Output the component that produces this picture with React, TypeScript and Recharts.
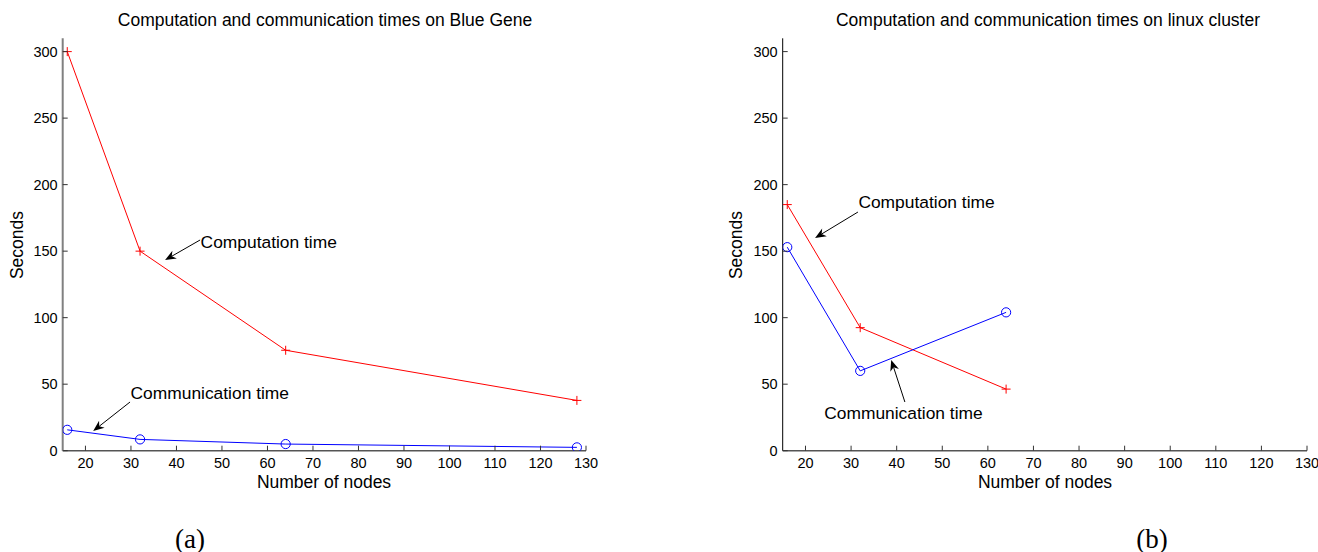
import { LineChart, Line, XAxis, YAxis, ReferenceLine, ReferenceDot } from "recharts";

// values
const nodesBlueGene = [16, 32, 64, 128];
const compBlueGene = [300, 150, 75.5, 37.8];
const commBlueGene = [15.7, 8.5, 5, 2.5];

const nodesCluster = [16, 32, 64];
const compCluster = [185, 92.5, 46.3];
const commCluster = [153, 60, 104];

const xTicks = [20, 30, 40, 50, 60, 70, 80, 90, 100, 110, 120, 130];
const yTicks = [0, 50, 100, 150, 200, 250, 300];
const xDomain = [15, 130];
const yDomain = [0, 310];

// annotation text spot, arrow tail and arrow tip, in data units
const blueGeneNotes = [
  { text: "Computation time", at: [45.3, 157], tail: [45.2, 158.4], tip: [37.5, 143.3] },
  { text: "Communication time", at: [29.9, 43.4], tail: [29.8, 36.6], tip: [21.7, 14.8] },
];
const clusterNotes = [
  { text: "Computation time", at: [31.6, 187], tail: [31.5, 179.4], tip: [22.1, 159.9] },
  { text: "Communication time", at: [24.1, 28.4], tail: [41.8, 36.6], tip: [38.8, 68.2] },
];

const SANS = '"Liberation Sans", Arial, Helvetica, sans-serif';
const SERIF = '"Liberation Serif", "Times New Roman", serif';

const blueGeneRows = nodesBlueGene.map((n, i) => ({ n, comp: compBlueGene[i], comm: commBlueGene[i] }));
const clusterRows = nodesCluster.map((n, i) => ({ n, comp: compCluster[i], comm: commCluster[i] }));

function XTick(props: any) {
  const { x, y, payload } = props;
  return (
    <g>
      <line x1={x} x2={x} y1={y} y2={y - 5} stroke="#333" />
      <text x={x} y={y + 17.5} textAnchor="middle" fontSize={14.5} fontFamily={SANS} fill="#000">
        {payload.value}
      </text>
    </g>
  );
}

function YTick(props: any) {
  const { x, y, payload } = props;
  return (
    <g>
      <line x1={x} x2={x + 5} y1={y} y2={y} stroke="#333" />
      <text x={x - 5} y={y + 5.2} textAnchor="end" fontSize={14.5} fontFamily={SANS} fill="#000">
        {payload.value}
      </text>
    </g>
  );
}

function PlusDot(props: any) {
  const { cx, cy, index } = props;
  return <path key={`p${index}`} d={`M${cx - 4.5},${cy}H${cx + 4.5}M${cx},${cy - 4.5}V${cy + 4.5}`} stroke="#ff0000" strokeWidth={1} />;
}

function CircleDot(props: any) {
  const { cx, cy, index } = props;
  return <circle key={`c${index}`} cx={cx} cy={cy} r={4.6} fill="none" stroke="#0000ff" strokeWidth={1} />;
}

function Arrow(props: any) {
  const { x1, y1, x2, y2 } = props;
  const dx = x2 - x1;
  const dy = y2 - y1;
  const len = Math.hypot(dx, dy) || 1;
  const ux = dx / len;
  const uy = dy / len;
  const head = 11;
  const half = 4.5;
  const bx = x2 - ux * head;
  const by = y2 - uy * head;
  const nx = x2 - ux * head * 0.7;
  const ny = y2 - uy * head * 0.7;
  const pts = `${x2},${y2} ${bx - uy * half},${by + ux * half} ${nx},${ny} ${bx + uy * half},${by - ux * half}`;
  return (
    <g>
      <line x1={x1} y1={y1} x2={nx} y2={ny} stroke="#000" strokeWidth={1} />
      <polygon points={pts} fill="#000" />
    </g>
  );
}

function NoteText(text: string) {
  return (props: any) => (
    <text x={props.cx} y={props.cy} dominantBaseline="central" fontSize={17.4} fontFamily={SANS} fill="#000">
      {text}
    </text>
  );
}

interface PanelProps {
  rows: { n: number; comp: number; comm: number }[];
  notes: typeof blueGeneNotes;
  width: number;
  margin: { top: number; right: number; bottom: number; left: number };
  yAxisStroke: string;
  yAxisWidth: number;
}

function Panel({ rows, notes, width, margin, yAxisStroke, yAxisWidth }: PanelProps) {
  return (
    <LineChart width={width} height={500} data={rows} margin={margin} style={{ overflow: "visible" }}>
      <XAxis
        type="number"
        dataKey="n"
        domain={xDomain}
        ticks={xTicks}
        interval={0}
        allowDataOverflow
        height={30}
        tickSize={0}
        tickMargin={0}
        tick={(p: any) => <XTick {...p} />}
        axisLine={{ stroke: "#555", strokeWidth: 1.5 }}
      />
      <YAxis
        type="number"
        domain={yDomain}
        ticks={yTicks}
        interval={0}
        allowDataOverflow
        width={40}
        tickSize={0}
        tickMargin={0}
        tick={(p: any) => <YTick {...p} />}
        axisLine={{ stroke: yAxisStroke, strokeWidth: yAxisWidth }}
      />
      <Line
        type="linear"
        dataKey="comp"
        stroke="#ff0000"
        strokeWidth={1}
        dot={(p: any) => <PlusDot {...p} key={`p${p.index}`} />}
        isAnimationActive={false}
      />
      <Line
        type="linear"
        dataKey="comm"
        stroke="#0000ff"
        strokeWidth={1}
        dot={(p: any) => <CircleDot {...p} key={`c${p.index}`} />}
        isAnimationActive={false}
      />
      {notes.map((note) => (
        <ReferenceLine
          key={`a-${note.text}`}
          segment={[
            { x: note.tail[0], y: note.tail[1] },
            { x: note.tip[0], y: note.tip[1] },
          ]}
          ifOverflow="visible"
          shape={(p: any) => <Arrow {...p} />}
        />
      ))}
      {notes.map((note) => (
        <ReferenceDot
          key={`t-${note.text}`}
          x={note.at[0]}
          y={note.at[1]}
          r={1}
          ifOverflow="visible"
          shape={NoteText(note.text)}
        />
      ))}
    </LineChart>
  );
}

const abs = (left: number, top: number): React.CSSProperties => ({ position: "absolute", left, top });

function Caption({ x, y, text, size, rotate, family }: { x: number; y: number; text: string; size: number; rotate?: boolean; family: string }) {
  return (
    <div
      style={{
        position: "absolute",
        left: x,
        top: y,
        transform: `translate(-50%, -50%)${rotate ? " rotate(-90deg)" : ""}`,
        fontFamily: family,
        fontSize: size,
        lineHeight: 1,
        whiteSpace: "nowrap",
        color: "#000",
      }}
    >
      {text}
    </div>
  );
}

export default function App() {
  return (
    <div style={{ position: "absolute", left: 0, top: 0, width: 1318, height: 552, background: "#fff", overflow: "hidden" }}>
      <div style={abs(0, 0)}>
        <Panel
          rows={blueGeneRows}
          notes={blueGeneNotes}
          width={600}
          margin={{ top: 38.3, right: 14, bottom: 19.3, left: 22.7 }}
          yAxisStroke="#808080"
          yAxisWidth={2}
        />
      </div>
      <div style={abs(700, 0)}>
        <Panel
          rows={clusterRows}
          notes={clusterNotes}
          width={618}
          margin={{ top: 38.3, right: 11, bottom: 19.3, left: 42.7 }}
          yAxisStroke="#000"
          yAxisWidth={1}
        />
      </div>
      <Caption x={325} y={21} text="Computation and communication times on Blue Gene" size={17.5} family={SANS} />
      <Caption x={1048} y={21} text="Computation and communication times on linux cluster" size={17.5} family={SANS} />
      <Caption x={324} y={483} text="Number of nodes" size={17.5} family={SANS} />
      <Caption x={1045} y={483} text="Number of nodes" size={17.5} family={SANS} />
      <Caption x={18} y={244.5} text="Seconds" size={17.5} rotate family={SANS} />
      <Caption x={737} y={244.5} text="Seconds" size={17.5} rotate family={SANS} />
      <Caption x={190} y={539} text="(a)" size={27} family={SERIF} />
      <Caption x={1152} y={539} text="(b)" size={27} family={SERIF} />
    </div>
  );
}
